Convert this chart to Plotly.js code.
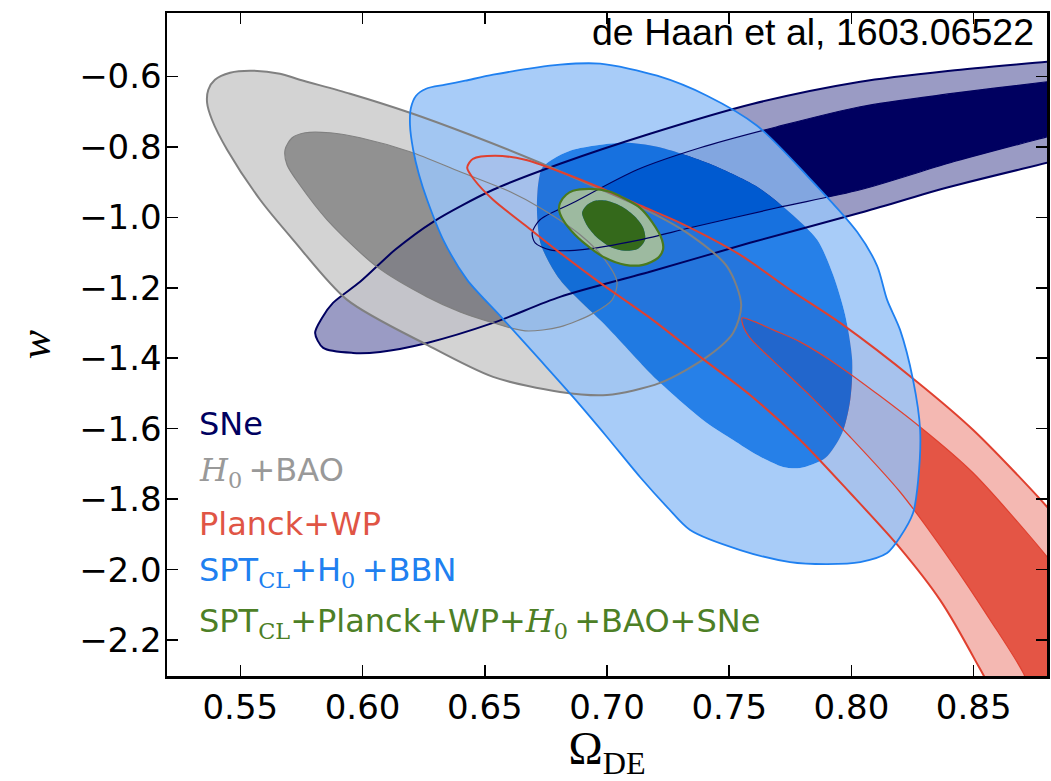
<!DOCTYPE html>
<html>
<head>
<meta charset="utf-8">
<script src="https://cdn.plot.ly/plotly-3.0.1.min.js"></script>
<style>html,body{margin:0;padding:0;background:#fff;}#chart{width:1051px;height:781px;}</style>
</head>
<body>
<div id="chart"></div>
<script>
// ---- axis ticks ----
const xTicks = [0.55, 0.60, 0.65, 0.70, 0.75, 0.80, 0.85];
const yTicks = [-2.2, -2.0, -1.8, -1.6, -1.4, -1.2, -1.0, -0.8, -0.6];

// ---- SNe contours (Omega_DE, w) ----
const snOuterX = [0.5806,0.5834,0.5879,0.5990,0.6133,0.6289,0.6534,0.6808,0.7176,0.7598,0.8036,0.8404,0.8801,0.9100,
                  0.9100,0.8801,0.8404,0.8036,0.7585,0.7176,0.6808,0.6534,0.6264,0.6072,0.5961,0.5839];
const snOuterY = [-1.3281,-1.2855,-1.2429,-1.1832,-1.0923,-1.0127,-0.9218,-0.8480,-0.7628,-0.6776,-0.6151,-0.5838,-0.5582,-0.5383,
                  -0.7940,-0.8451,-0.9133,-0.9872,-1.0724,-1.1547,-1.2258,-1.2997,-1.3565,-1.3820,-1.3849,-1.3706];
const snInnerX = [0.6694,0.6726,0.6861,0.7123,0.7381,0.7696,0.8036,0.8404,0.8801,0.9018,
                  0.9018,0.8801,0.8404,0.8036,0.7696,0.7340,0.7135,0.6889,0.6767,0.6706];
const snInnerY = [-1.0440,-1.0070,-0.9588,-0.8650,-0.8026,-0.7429,-0.6861,-0.6491,-0.6151,-0.5952,
                  -0.7315,-0.7713,-0.8451,-0.9218,-0.9729,-1.0297,-1.0638,-1.0923,-1.0923,-1.0724];

// ---- H0+BAO contours ----
const hbOuterX = [0.5369,0.5396,0.5458,0.5540,0.5662,0.5743,0.5949,0.6194,0.6440,0.6726,0.6931,0.7135,0.7328,0.7492,0.7549,
                  0.7516,0.7409,0.7217,0.7000,0.6808,0.6534,0.6264,0.5937,0.5716,0.5581,0.5446,0.5384,0.5364];
const hbOuterY = [-0.6378,-0.6094,-0.5895,-0.5838,-0.5923,-0.6094,-0.6491,-0.7031,-0.7656,-0.8451,-0.9076,-0.9701,-1.0440,-1.1405,-1.2485,
                  -1.3281,-1.3962,-1.4701,-1.5042,-1.4956,-1.4530,-1.3621,-1.2343,-1.0638,-0.9502,-0.8082,-0.7230,-0.6747];
const hbInnerX = [0.5683,0.5712,0.5765,0.5867,0.5990,0.6194,0.6399,0.6604,0.6726,0.6890,0.6992,0.7041,
                  0.7021,0.6939,0.6808,0.6665,0.6522,0.6399,0.6264,0.6059,0.5855,0.5743,0.5691];
const hbInnerY = [-0.8082,-0.7741,-0.7599,-0.7599,-0.7741,-0.8139,-0.8707,-0.9275,-0.9730,-1.0497,-1.1206,-1.1832,
                  -1.2343,-1.2741,-1.3110,-1.3224,-1.2968,-1.2684,-1.2258,-1.1405,-1.0070,-0.9076,-0.8508];

// ---- Planck+WP contours ----
const plOuterX = [0.6428,0.6452,0.6542,0.6665,0.6808,0.6972,0.7148,0.7299,0.7545,0.7749,0.7954,0.8269,0.8498,0.8801,0.9018,
                  0.9060,0.8600,0.8568,0.8506,0.8363,0.8199,0.7995,0.7790,0.7585,0.7381,0.7176,0.6972,0.6808,0.6673,0.6534,0.6457];
const plOuterY = [-0.8593,-0.8338,-0.8252,-0.8366,-0.8707,-0.9161,-0.9701,-1.0156,-1.1065,-1.2059,-1.2997,-1.4672,-1.6036,-1.8223,-2.0013,
                  -2.5125,-2.5125,-2.3421,-2.2569,-2.0865,-1.9388,-1.7826,-1.6320,-1.5042,-1.3962,-1.2855,-1.1860,-1.1008,-1.0269,-0.9502,-0.8934];
const plInnerX = [0.7553,0.7606,0.7680,0.7790,0.7954,0.8281,0.8498,0.8801,0.8936,
                  0.8936,0.8772,0.8752,0.8703,0.8568,0.8404,0.8199,0.7995,0.7819,0.7667,0.7585,0.7557];
const plInnerY = [-1.2855,-1.2969,-1.3195,-1.3536,-1.4246,-1.5951,-1.7257,-1.9643,-2.0865,
                  -2.4557,-2.4557,-2.3847,-2.2938,-2.1433,-1.9729,-1.7797,-1.6235,-1.4985,-1.3991,-1.3422,-1.3082];

// ---- SPT_CL+H0+BBN contours ----
const sptOuterX = [0.6194,0.6198,0.6219,0.6260,0.6338,0.6420,0.6534,0.6808,0.6972,0.7205,0.7409,0.7614,0.7819,0.8023,0.8105,0.8146,0.8199,0.8252,0.8281,0.8273,0.8252,
                   0.8199,0.8146,0.8036,0.7901,0.7749,0.7545,0.7340,0.7246,0.7135,0.7000,0.6861,0.6726,0.6563,0.6428,0.6330,0.6264,0.6231,0.6207];
const sptOuterY = [-0.7372,-0.6889,-0.6548,-0.6349,-0.6236,-0.6122,-0.5952,-0.5668,-0.5639,-0.5980,-0.6548,-0.7400,-0.8820,-1.0411,-1.1377,-1.2343,-1.3195,-1.4615,-1.6036,-1.7456,-1.8393,
                   -1.9075,-1.9529,-1.9785,-1.9842,-1.9785,-1.9444,-1.8876,-1.8223,-1.7371,-1.6235,-1.5098,-1.4048,-1.2798,-1.1775,-1.0638,-0.9502,-0.8792,-0.8082];
const sptInnerX = [0.6718,0.6735,0.6788,0.6861,0.7066,0.7205,0.7409,0.7614,0.7749,0.7860,0.7925,0.7974,0.8003,
                   0.7995,0.7962,0.7893,0.7790,0.7720,0.7614,0.7516,0.7409,0.7205,0.7000,0.6808,0.6730,0.6714];
const sptInnerY = [-0.9076,-0.8593,-0.8309,-0.8082,-0.7883,-0.7997,-0.8451,-0.9133,-0.9872,-1.0638,-1.1633,-1.2769,-1.4048,
                   -1.5184,-1.6121,-1.6831,-1.7115,-1.7087,-1.6746,-1.6320,-1.5837,-1.4615,-1.3110,-1.1775,-1.0781,-0.9928];

// ---- combined contours ----
const allOuterX = [0.6808,0.6833,0.6861,0.6931,0.7013,0.7066,0.7135,0.7184,0.7225,0.7229,0.7209,0.7148,0.7074,0.6992,0.6931,0.6869,0.6820,0.6804];
const allOuterY = [-0.9588,-0.9360,-0.9247,-0.9190,-0.9275,-0.9446,-0.9730,-1.0127,-1.0638,-1.0923,-1.1150,-1.1349,-1.1349,-1.1150,-1.0866,-1.0497,-1.0070,-0.9786];
const allInnerX = [0.6898,0.6915,0.6951,0.7000,0.7062,0.7115,0.7148,0.7156,0.7127,0.7074,0.7021,0.6960,0.6919];
const allInnerY = [-0.9872,-0.9673,-0.9531,-0.9531,-0.9701,-0.9985,-1.0297,-1.0638,-1.0894,-1.0951,-1.0866,-1.0582,-1.0241];

// ---- legend labels ----
const SERIF = 'font-family:DejaVu Serif';
const legendLabels = [
  'SNe',
  '<span style="' + SERIF + ';font-style:italic">H</span><sub style="' + SERIF + '">0</sub>\u2009+BAO',
  'Planck+WP',
  'SPT<sub style="' + SERIF + '">CL</sub>+H<sub style="' + SERIF + '">0</sub>\u2009+BBN',
  'SPT<sub style="' + SERIF + '">CL</sub>+Planck+WP+<span style="' + SERIF + ';font-style:italic">H</span><sub style="' + SERIF + '">0</sub>\u2009+BAO+SNe'
];
const legendColors = ['#000060', '#999999', '#e05545', '#2080f0', '#4d7f26'];
const legendY = [0.380, 0.3077, 0.2293, 0.1569, 0.0799];

// ---- helpers ----
function signedArea(xs, ys) {
  let a = 0;
  for (let i = 0; i < xs.length; i++) {
    const j = (i + 1) % xs.length;
    a += xs[i] * ys[j] - xs[j] * ys[i];
  }
  return a;
}
function closed(xs, ys) { return {x: xs.concat([xs[0]]), y: ys.concat([ys[0]])}; }
function band(ox, oy, ix, iy) {
  let rx = ix.slice(), ry = iy.slice();
  if (Math.sign(signedArea(ox, oy)) === Math.sign(signedArea(ix, iy))) { rx.reverse(); ry.reverse(); }
  const o = closed(ox, oy), n = closed(rx, ry);
  return {x: o.x.concat([null]).concat(n.x), y: o.y.concat([null]).concat(n.y)};
}
const SMOOTH = 0.8;
function fillTrace(p, color) {
  return {x: p.x, y: p.y, type: 'scatter', mode: 'lines', fill: 'toself', fillcolor: color,
          line: {width: 0, shape: 'spline', smoothing: SMOOTH, color: 'rgba(0,0,0,0)'}, hoverinfo: 'skip', showlegend: false};
}
function lineTrace(xs, ys, color, w) {
  const p = closed(xs, ys);
  return {x: p.x, y: p.y, type: 'scatter', mode: 'lines',
          line: {width: w, color: color, shape: 'spline', smoothing: SMOOTH}, hoverinfo: 'skip', showlegend: false};
}

const traces = [
  fillTrace(band(snOuterX, snOuterY, snInnerX, snInnerY), 'rgba(136,138,186,0.85)'),
  fillTrace(closed(snInnerX, snInnerY), 'rgba(0,0,96,1)'),
  fillTrace(band(hbOuterX, hbOuterY, hbInnerX, hbInnerY), 'rgba(203,203,203,0.85)'),
  fillTrace(closed(hbInnerX, hbInnerY), 'rgba(126,126,126,0.85)'),
  fillTrace(band(plOuterX, plOuterY, plInnerX, plInnerY), 'rgba(242,172,164,0.85)'),
  fillTrace(closed(plInnerX, plInnerY), 'rgba(223,55,36,0.85)'),
  fillTrace(band(sptOuterX, sptOuterY, sptInnerX, sptInnerY), 'rgba(153,195,247,0.85)'),
  fillTrace(closed(sptInnerX, sptInnerY), 'rgba(0,106,228,0.85)'),
  fillTrace(band(allOuterX, allOuterY, allInnerX, allInnerY), 'rgb(157,186,160)'),
  fillTrace(closed(allInnerX, allInnerY), 'rgb(52,105,27)'),
  lineTrace(snOuterX, snOuterY, '#000060', 2),
  lineTrace(snInnerX, snInnerY, '#000060', 1.2),
  lineTrace(hbOuterX, hbOuterY, '#808080', 2),
  lineTrace(hbInnerX, hbInnerY, '#808080', 1.2),
  lineTrace(plOuterX, plOuterY, '#e0402f', 2),
  lineTrace(plInnerX, plInnerY, '#e0402f', 1.2),
  lineTrace(sptOuterX, sptOuterY, '#1f80f0', 1.8),
  lineTrace(allOuterX, allOuterY, '#4a7a1e', 2.2)
];

const annotations = [{
  xref: 'paper', yref: 'paper', x: 0.988, y: 0.971, xanchor: 'right', yanchor: 'middle',
  text: 'de Haan et al, 1603.06522', showarrow: false,
  font: {family: 'Liberation Sans, Arial, sans-serif', size: 37.5, color: '#000'}
}];
legendLabels.forEach((t, i) => annotations.push({
  xref: 'paper', yref: 'paper', x: 0.0341, y: legendY[i], xanchor: 'left', yanchor: 'middle',
  text: t, showarrow: false, font: {family: 'DejaVu Sans, sans-serif', size: 32, color: legendColors[i]}
}));

const axisCommon = {
  showgrid: false, zeroline: false, showline: true, mirror: 'ticks', linecolor: '#000', linewidth: 2.5,
  ticks: 'inside', ticklen: 11, tickwidth: 1.5, tickcolor: '#000',
  tickfont: {family: 'DejaVu Sans, sans-serif', size: 34, color: '#000'}
};

const layout = {
  width: 1051, height: 781,
  margin: {l: 167, r: 4, t: 13, b: 105, pad: 0},
  paper_bgcolor: '#fff', plot_bgcolor: '#fff',
  showlegend: false,
  xaxis: Object.assign({}, axisCommon, {
    range: [0.52, 0.88], tickvals: xTicks, ticktext: xTicks.map(v => v.toFixed(2)),
    title: {text: '\u2009Ω<sub>DE</sub>', font: {family: 'Liberation Serif, serif', size: 46, color: '#000'}, standoff: 8}
  }),
  yaxis: Object.assign({}, axisCommon, {
    range: [-2.302, -0.42], tickvals: yTicks, ticktext: yTicks.map(v => '\u2212' + Math.abs(v).toFixed(1)),
    ticklabelstandoff: -4,
    title: {text: '<i>w</i>', font: {family: 'Liberation Serif, serif', size: 44, color: '#000'}, standoff: 15}
  }),
  annotations: annotations
};

Plotly.newPlot('chart', traces, layout, {staticPlot: true, displayModeBar: false});
</script>
</body>
</html>
